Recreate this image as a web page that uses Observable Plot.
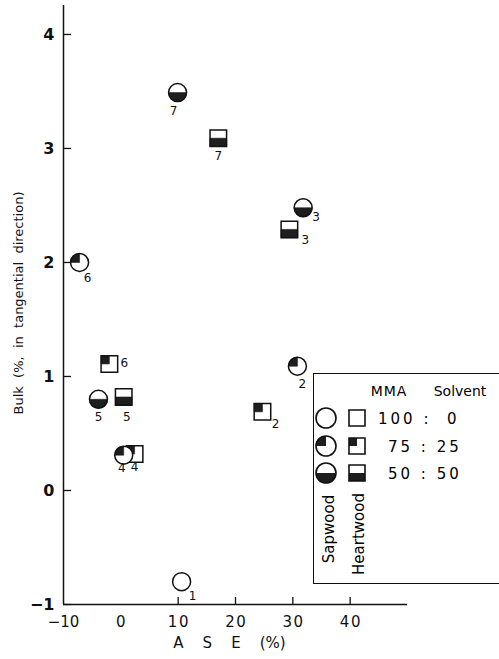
<!DOCTYPE html>
<html><head><meta charset="utf-8">
<script src="https://cdn.jsdelivr.net/npm/d3@7"></script>
<script src="https://cdn.jsdelivr.net/npm/@observablehq/plot@0.6"></script>
<style>
html,body{margin:0;padding:0;background:#fff;overflow:hidden;}
#wrap{position:relative;width:499px;height:659px;}
#legend{position:absolute;left:313px;top:373px;width:200px;height:209px;border:1.5px solid #111;background:#fff;}
</style></head><body><div id="wrap"></div>
<script>
// ---- data ----
const sampleIds = ["1","2","3","4","5","6","7"];
const sampleRatio = ["100:0","75:25","50:50","75:25","50:50","75:25","50:50"];
const sapwoodASE  = [10.6, 30.8, 31.8, 0.5, -3.9, -7.2, 9.9];
const sapwoodBulk = [-0.80, 1.09, 2.48, 0.31, 0.80, 2.00, 3.49];
const heartwoodIds  = ["2","3","4","5","6","7"];
const heartwoodASE  = [24.7, 29.4, 2.4, 0.5, -2.0, 17.0];
const heartwoodBulk = [0.69, 2.29, 0.32, 0.82, 1.11, 3.09];
const xTickLabels = [-10, 0, 10, 20, 30, 40];
const xTickMarks = [10, 20, 30, 40];
const yTicks = [-1, 0, 1, 2, 3, 4];
const ratioLabels = ["100 :  0", "75 : 25", "50 : 50"];
const ratioKeys = ["100:0", "75:25", "50:50"];
const woodNames = ["Sapwood", "Heartwood"];

// ---- symbols ----
const rad = s => Math.sqrt(s / Math.PI);
const circleFull = {draw(c, s){ const r = rad(s); c.moveTo(r, 0); c.arc(0, 0, r, 0, 2*Math.PI); c.closePath(); }};
const circleQuarter = {draw(c, s){ const r = rad(s); c.moveTo(0, 0); c.lineTo(-r, 0); c.arc(0, 0, r, Math.PI, 1.5*Math.PI); c.closePath(); }};
const circleHalf = {draw(c, s){ const r = rad(s); c.moveTo(r, 0); c.arc(0, 0, r, 0, Math.PI); c.closePath(); }};
const squareFull = {draw(c, s){ const h = rad(s)*0.92; c.moveTo(-h,-h); c.lineTo(h,-h); c.lineTo(h,h); c.lineTo(-h,h); c.closePath(); }};
const squareQuarter = {draw(c, s){ const h = rad(s)*0.92; c.moveTo(-h,-h); c.lineTo(0,-h); c.lineTo(0,0); c.lineTo(-h,0); c.closePath(); }};
const squareHalf = {draw(c, s){ const h = rad(s)*0.92; c.moveTo(-h,0); c.lineTo(h,0); c.lineTo(h,h); c.lineTo(-h,h); c.closePath(); }};
const fillSym = {circle: {"75:25": circleQuarter, "50:50": circleHalf}, square: {"75:25": squareQuarter, "50:50": squareHalf}};

const ratioOf = Object.fromEntries(sampleIds.map((id, i) => [id, sampleRatio[i]]));
const sap = sampleIds.map((id, i) => ({id, x: sapwoodASE[i], y: sapwoodBulk[i], ratio: ratioOf[id]}));
const heart = heartwoodIds.map((id, i) => ({id, x: heartwoodASE[i], y: heartwoodBulk[i], ratio: ratioOf[id]}));

// label placement (layout only)
const sapOff = {"1":[11,14],"2":[5,18],"3":[13,9],"4":[-2,13],"5":[0,18],"6":[8,16],"7":[-4,19]};
const heartOff = {"2":[13,12],"3":[16,11],"4":[0,13],"5":[3,20],"6":[15,-1],"7":[0,18]};

const DARK = "#1e1e1e";
const R = 9;
const font = "DejaVu Sans";

function pointMarks(data, kind, offs) {
  const full = kind === "circle" ? circleFull : squareFull;
  const marks = [Plot.dot(data, {x: "x", y: "y", r: R, symbol: full, fill: "white", stroke: "none"})];
  for (const k of ["75:25", "50:50"]) {
    marks.push(Plot.dot(data.filter(d => d.ratio === k), {x: "x", y: "y", r: R, symbol: fillSym[kind][k], fill: DARK, stroke: DARK, strokeWidth: 0.6}));
  }
  marks.push(Plot.dot(data, {x: "x", y: "y", r: R, symbol: full, fill: "none", stroke: "#111", strokeWidth: 1.5}));
  for (const d of data) {
    const [dx, dy] = offs[d.id];
    marks.push(Plot.text([d], {x: "x", y: "y", text: "id", dx, dy, fontSize: 12, fill: "#111"}));
  }
  return marks;
}

const chart = Plot.plot({
  width: 499, height: 659,
  marginLeft: 63, marginRight: 92, marginTop: 5, marginBottom: 55,
  x: {domain: [-10, 50]},
  y: {domain: [-1, 4.254]},
  style: {fontFamily: font, background: "white", color: "#111"},
  marks: [
    Plot.ruleX([-10], {stroke: "#111", strokeWidth: 1.5}),
    Plot.ruleY([-1], {stroke: "#111", strokeWidth: 1.5}),
    Plot.axisY({ticks: yTicks, tickSize: 8, dx: 8, tickFormat: () => "", label: null, strokeWidth: 1.3}),
    Plot.axisY({ticks: yTicks, tickSize: 0, tickPadding: 9, label: null, fontSize: 16, fontWeight: "bold", tickFormat: d => d < 0 ? "\u2212" + Math.abs(d) : String(d)}),
    Plot.axisX({ticks: xTickMarks, tickSize: 7, dy: -7, tickFormat: () => "", label: null, strokeWidth: 1.3}),
    Plot.axisX({ticks: xTickLabels, tickSize: 0, tickPadding: 12, label: null, fontSize: 15, tickFormat: d => d < 0 ? "\u2212" + Math.abs(d) : String(d).split("").join("\u200A")}),
    Plot.text(["A    S    E    (%)"], {frameAnchor: "bottom", dy: 43, dx: -6, fontSize: 15, text: d => d, fill: "#111"}),
    Plot.text(["Bulk  (%,  in  tangential  direction)"], {frameAnchor: "left", dx: -45, dy: -2, rotate: -90, textAnchor: "middle", fontSize: 13, letterSpacing: 1.2, text: d => d, fill: "#111"}),
    ...pointMarks(heart, "square", heartOff),
    ...pointMarks(sap, "circle", sapOff)
  ]
});
document.getElementById("wrap").appendChild(chart);

// ---- legend ----
const legend = document.createElement("div");
legend.id = "legend";
document.getElementById("wrap").appendChild(legend);
const ls = d3.select(legend).append("svg").attr("width", 200).attr("height", 209).style("font-family", font);
ls.append("text").attr("x", 75).attr("y", 22).attr("text-anchor", "middle").attr("font-size", 14).attr("letter-spacing", 1).text("MMA");
ls.append("text").attr("x", 146).attr("y", 22).attr("text-anchor", "middle").attr("font-size", 14).text("Solvent");
const rowY = [44, 72, 99];
ratioKeys.forEach((k, i) => {
  const y = rowY[i];
  const g1 = ls.append("g").attr("transform", `translate(12,${y})`);
  const g2 = ls.append("g").attr("transform", `translate(43,${y})`);
  const s = 10*10*Math.PI;
  g1.append("path").attr("d", d3.symbol(circleFull, s)()).attr("fill", "white");
  g2.append("path").attr("d", d3.symbol(squareFull, 8.7*8.7*Math.PI)()).attr("fill", "white");
  if (fillSym.circle[k]) {
    g1.append("path").attr("d", d3.symbol(fillSym.circle[k], s)()).attr("fill", DARK);
    g2.append("path").attr("d", d3.symbol(fillSym.square[k], 8.7*8.7*Math.PI)()).attr("fill", DARK);
  }
  g1.append("path").attr("d", d3.symbol(circleFull, s)()).attr("fill", "none").attr("stroke", "#111").attr("stroke-width", 1.6);
  g2.append("path").attr("d", d3.symbol(squareFull, 8.7*8.7*Math.PI)()).attr("fill", "none").attr("stroke", "#111").attr("stroke-width", 1.6);
  ls.append("text").attr("x", i === 0 ? 64 : 74).attr("y", y + 6).attr("font-size", 15).attr("letter-spacing", 3).attr("xml:space", "preserve").style("white-space", "pre").text(ratioLabels[i]);
});
const woodX = [15, 45], woodY = [155, 160];
woodNames.forEach((w, i) => {
  ls.append("text").attr("transform", `translate(${woodX[i] + 5},${woodY[i]}) rotate(-90)`).attr("text-anchor", "middle").attr("font-size", 15).text(w);
});
</script></body></html>
